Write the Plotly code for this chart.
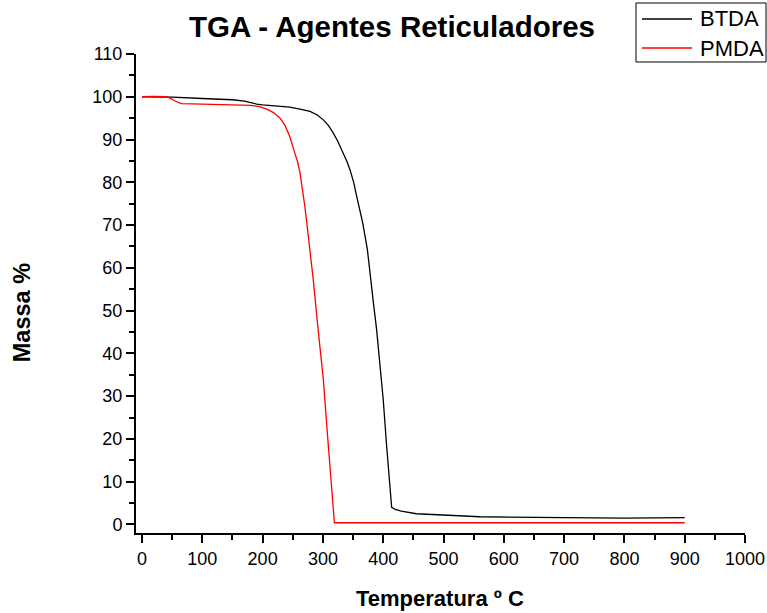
import plotly.graph_objects as go

# Temperature (°C) and residual mass (%) for each crosslinking agent
btda_temp = [0, 30, 50, 100, 150, 170, 180, 190, 200, 230, 245, 262, 278.6, 290, 300.7,
             309, 317.3, 325, 333.8, 340, 345, 351, 356, 366, 373.7, 378, 384, 389, 395,
             400, 405.7, 409.6, 412, 414, 420, 430, 455, 500, 560, 700, 800, 900]
btda_mass = [100, 100, 99.9, 99.6, 99.3, 99.0, 98.6, 98.3, 98.1, 97.8, 97.6, 97.1, 96.6,
             95.8, 94.6, 93.3, 91.5, 89.5, 86.8, 84.8, 82.9, 80.0, 76.7, 70.5, 64.3,
             58.5, 51.5, 45.6, 37.0, 29.2, 18.3, 10.5, 6.5, 4.0, 3.5, 3.1, 2.5, 2.2,
             1.8, 1.6, 1.5, 1.6]

pmda_temp = [0, 20, 40, 45, 55, 65, 100, 150, 180, 195, 207, 218, 229, 237, 245, 253,
             258, 262, 266, 270, 274, 278.6, 284, 292, 300.7, 307, 313, 316, 319, 350,
             500, 700, 900]
pmda_mass = [100, 100.1, 100, 99.8, 99.0, 98.4, 98.3, 98.2, 98.0, 97.7, 97.1, 96.3,
             95.0, 93.3, 90.7, 87.0, 84.8, 82.2, 78.6, 74.4, 69.6, 64.3, 57.2, 45.6,
             33.9, 22.0, 10.5, 5.5, 0.4, 0.4, 0.4, 0.4, 0.4]

series_names = ["BTDA", "PMDA"]
series_colors = ["black", "#ff0000"]

x_ticks = list(range(0, 1001, 100))
y_ticks = list(range(0, 111, 10))

FONT = "Arial, Liberation Sans, sans-serif"

fig = go.Figure()
fig.add_trace(go.Scatter(x=btda_temp, y=btda_mass, mode="lines", name=series_names[0],
                         line=dict(color=series_colors[0], width=1.3)))
fig.add_trace(go.Scatter(x=pmda_temp, y=pmda_mass, mode="lines", name=series_names[1],
                         line=dict(color=series_colors[1], width=1.3)))

axis_common = dict(
    showline=True, linecolor="black", linewidth=2,
    ticks="outside", ticklen=8, tickwidth=2, tickcolor="black",
    showgrid=False, zeroline=False,
    tickfont=dict(family=FONT, size=18, color="black"),
)

# Boxed legend in the top-right corner
shapes = [dict(type="rect", xref="paper", yref="paper",
               x0=0.8210, x1=1.0345, y0=0.9833, y1=1.1065,
               line=dict(color="black", width=1), fillcolor="white", layer="above")]
legend_rows_y = [1.0731, 1.0125]
annotations = []
for name, color, ly in zip(series_names, series_colors, legend_rows_y):
    shapes.append(dict(type="line", xref="paper", yref="paper",
                       x0=0.8309, x1=0.9130, y0=ly, y1=ly,
                       line=dict(color=color, width=1.3), layer="above"))
    annotations.append(dict(text=name, xref="paper", yref="paper",
                            x=0.9228, y=ly, xanchor="left", yanchor="middle",
                            showarrow=False,
                            font=dict(family=FONT, size=22, color="black")))

annotations += [
    dict(text="<b>TGA - Agentes Reticuladores</b>", xref="paper", yref="paper",
         x=0.4204, y=1.0564, xanchor="center", yanchor="middle", showarrow=False,
         font=dict(family=FONT, size=29.5, color="black")),
    dict(text="<b>Temperatura º C</b>", xref="paper", yref="paper",
         x=0.499, y=-0.1357, xanchor="center", yanchor="middle", showarrow=False,
         font=dict(family=FONT, size=22, color="black")),
    dict(text="<b>Massa %</b>", xref="paper", yref="paper",
         x=-0.187, y=0.459, xanchor="center", yanchor="middle", showarrow=False,
         textangle=-90, font=dict(family=FONT, size=23.5, color="black")),
]

fig.update_layout(
    width=767, height=613,
    margin=dict(l=136, r=22, t=54, b=80, autoexpand=False),
    paper_bgcolor="white", plot_bgcolor="white",
    xaxis=dict(range=[-10, 1000], tickvals=x_ticks,
               minor=dict(dtick=50, ticklen=5, tickwidth=2, tickcolor="black", ticks="outside"),
               **axis_common),
    yaxis=dict(range=[-2, 110], tickvals=y_ticks,
               minor=dict(dtick=5, ticklen=5, tickwidth=2, tickcolor="black", ticks="outside"),
               **axis_common),
    showlegend=False,
    shapes=shapes,
    annotations=annotations,
)

fig.write_html("out.html")
